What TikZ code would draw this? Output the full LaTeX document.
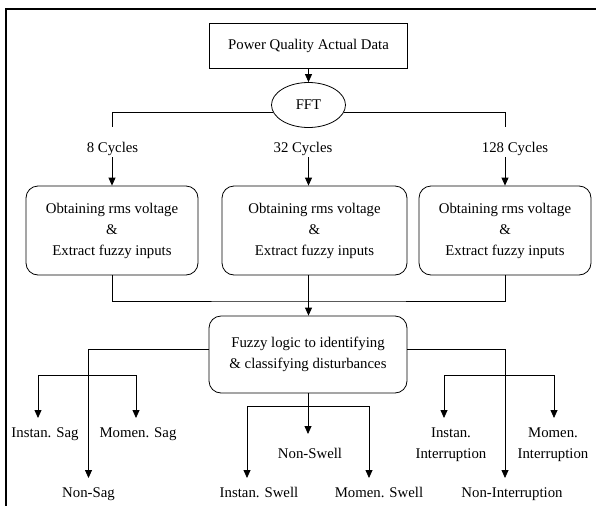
\documentclass[tikz,border=0pt]{standalone}
\usepackage{fontspec}
\setmainfont{Liberation Serif}
\usetikzlibrary{arrows.meta,shapes.geometric}
\begin{document}
\begin{tikzpicture}[x=1pt,y=-1pt,
  txt/.style={font=\fontsize{14.8}{21}\selectfont},
  box/.style={txt,draw,line width=0.8pt,rounded corners=12pt,minimum height=89pt,inner sep=0pt,align=center},
  conn/.style={line width=0.8pt},
  arr/.style={conn,-{Triangle[length=8pt,width=7pt]}},
  cyc/.style={txt,inner sep=0pt,text height=25pt,text depth=5pt,anchor=base},
  lab/.style={txt,inner xsep=0pt,inner ysep=9.5pt,anchor=north,align=center}
]
\useasboundingbox (0,0) rectangle (596,506);
% frame
\draw[line width=1.3pt] (596,9) -- (6,9) -- (6,506);

% top
\node[draw,txt,line width=0.8pt,minimum width=198pt,minimum height=45pt,inner sep=0pt] (data) at (308.5,45.5) {Power Quality Actual Data};
\node[draw,ellipse,txt,line width=0.8pt,minimum width=74pt,minimum height=45pt,inner sep=0pt] (fft) at (308.5,105) {FFT};
\draw[arr] (data.south) -- (fft.north);

% boxes
\node[box,minimum width=172pt] (b1) at (112,230.5) {Obtaining rms voltage\\\&\\Extract fuzzy inputs};
\node[box,minimum width=185pt] (b2) at (314.5,230.5) {Obtaining rms voltage\\\&\\Extract fuzzy inputs};
\node[box,minimum width=172pt] (b3) at (505,230.5) {Obtaining rms voltage\\\&\\Extract fuzzy inputs};

% cycle labels
\node[cyc] (c8) at (112.5,152) {8 Cycles};
\node[cyc] (c32) at (303,152) {32 Cycles};
\node[cyc] (c128) at (515,152) {128 Cycles};

\draw[conn] (fft.191) -| (b1.north |- c8.north);
\draw[arr] (b1.north |- c8.south) -- (b1.north);
\draw[conn] (fft.349) -| (b3.north |- c128.north);
\draw[arr] (b3.north |- c128.south) -- (b3.north);
\draw[conn] (fft.south) -- (fft.south |- c32.north);
\draw[arr] (fft.south |- c32.south) -- (fft.south |- b2.north);

% merge
\coordinate (m) at (308.5,301);
\node[box,minimum width=198pt,minimum height=77pt] (fz) at (308,354.5) {Fuzzy logic to identifying\\\& classifying disturbances};
\draw[conn] (b1.south) |- (m) -| (b3.south);
\draw[conn] (b2.south -| m) -- (m);
\draw[arr] (m) -- (fz.north -| m);

% output labels
\node[lab] (isag) at (45,418) {Instan. Sag};
\node[lab] (msag) at (138,418) {Momen. Sag};
\node[lab] (nsag) at (88.5,478) {Non-Sag};
\node[lab,inner ysep=14pt] (nswell) at (310,434) {Non-Swell};
\node[lab] (iswell) at (259,478) {Instan. Swell};
\node[lab] (mswell) at (379,478) {Momen. Swell};
\node[lab] (iint) at (451,418) {Instan.\\Interruption};
\node[lab] (mint) at (553,418) {Momen.\\Interruption};
\node[lab] (nint) at (512,478) {Non-Interruption};

% sag
\draw[arr] ([yshift=5.5pt]fz.west) -| (nsag.north);
\coordinate (sagL) at (38,375);
\coordinate (sagR) at (136,375);
\draw[arr] (sagR) -| (sagL |- isag.north);
\draw[arr] (sagR) -- (sagR |- msag.north);

% swell
\draw[arr] (fz.south) -- (fz.south |- nswell.north);
\coordinate (swL) at (247,406);
\coordinate (swR) at (369,406);
\draw[arr] (swR) -| (swL |- iswell.north);
\draw[arr] (swR) -- (swR |- mswell.north);

% interruption
\draw[arr] ([yshift=5.5pt]fz.east) -| ([xshift=-7pt]nint.north);
\coordinate (inL) at (444,375);
\coordinate (inR) at (554,375);
\draw[arr] (inL) -| (inR |- mint.north);
\draw[arr] (inL) -- (inL |- iint.north);
\end{tikzpicture}
\end{document}
